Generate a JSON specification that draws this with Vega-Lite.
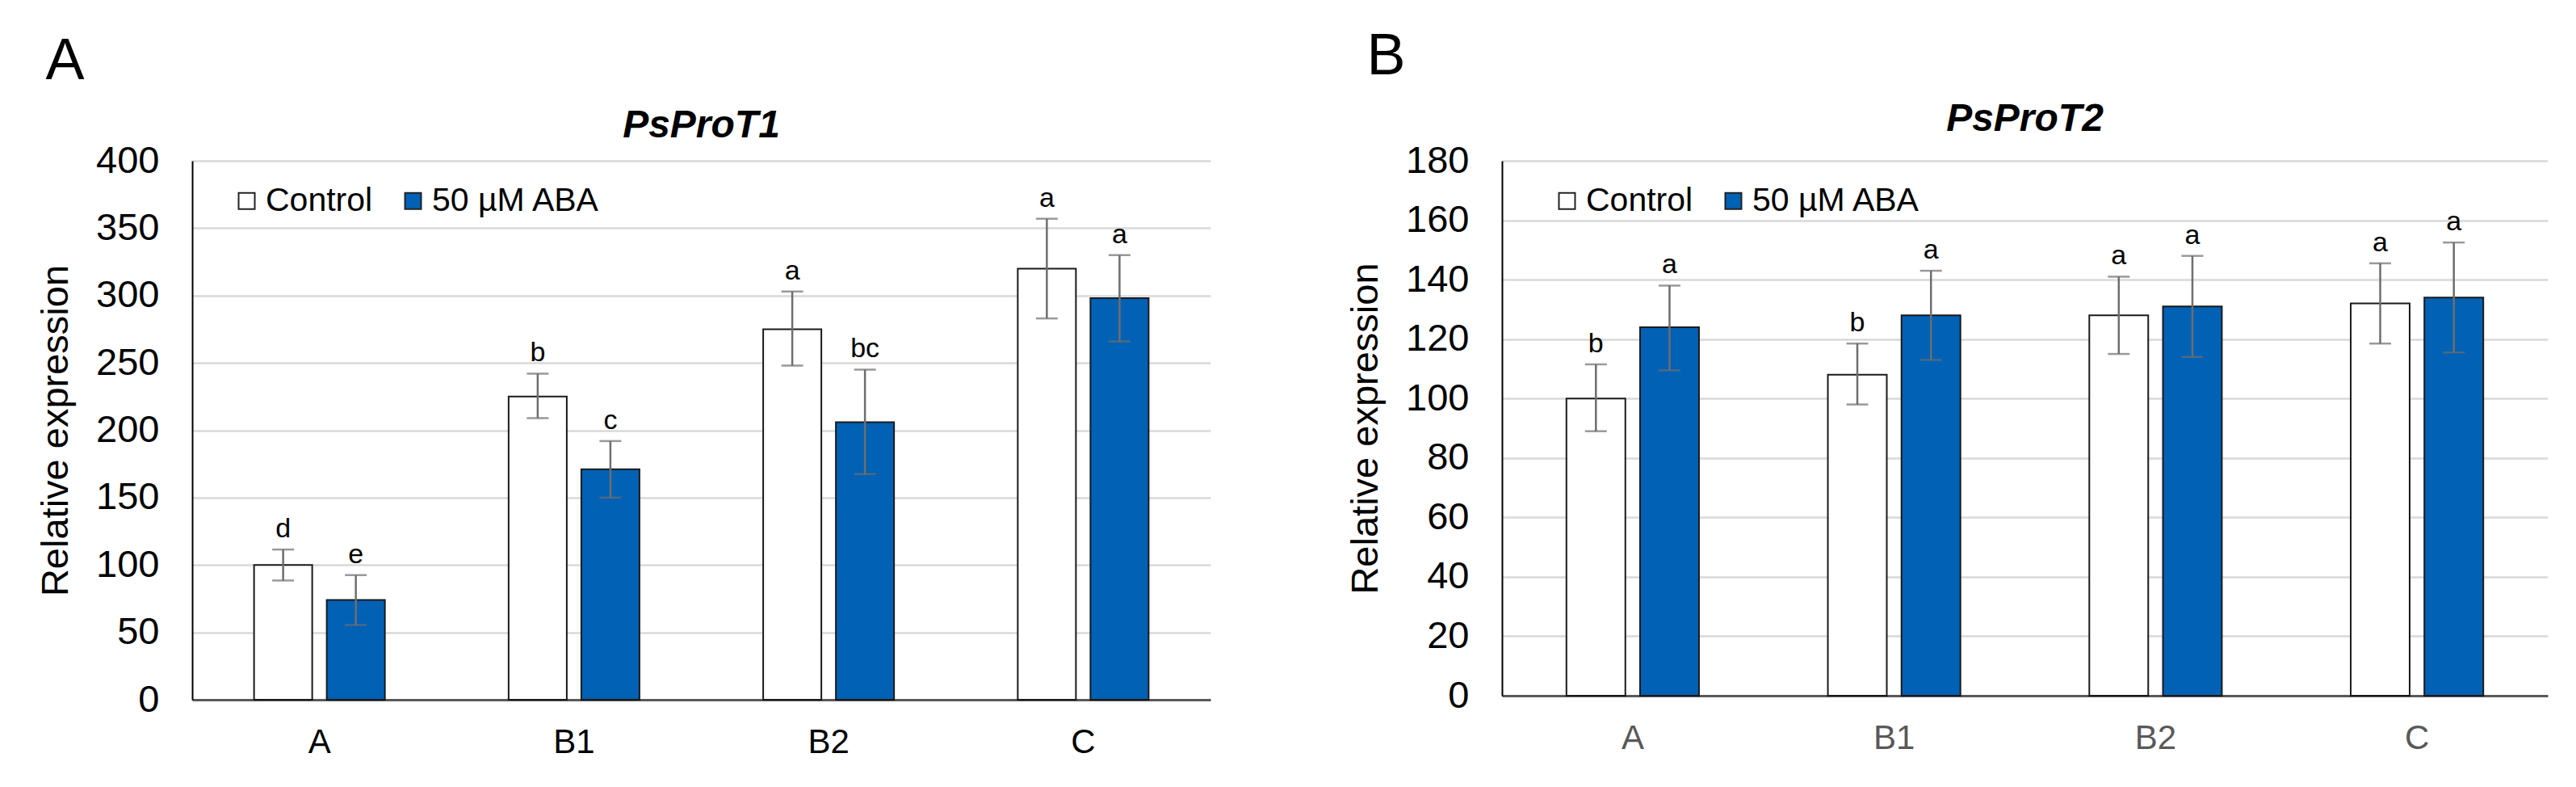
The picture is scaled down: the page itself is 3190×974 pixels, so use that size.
{
  "$schema": "https://vega.github.io/schema/vega-lite/v6.json",
  "padding": {"left": 45, "top": 33, "right": 10, "bottom": 10},
  "background": "white",
  "config": {
    "font": "Liberation Sans",
    "view": {"stroke": null},
    "axis": {"labelFont": "Liberation Sans", "titleFont": "Liberation Sans"}
  },
  "datasets": {
    "t1": [
      {"g": "A", "t": "Control", "m": 100, "lo": 88.5, "hi": 111.5, "l": "d"},
      {"g": "A", "t": "50 µM ABA", "m": 74, "lo": 55.5, "hi": 92.5, "l": "e"},
      {"g": "B1", "t": "Control", "m": 225, "lo": 209, "hi": 242, "l": "b"},
      {"g": "B1", "t": "50 µM ABA", "m": 171, "lo": 150, "hi": 192, "l": "c"},
      {"g": "B2", "t": "Control", "m": 275, "lo": 248, "hi": 303, "l": "a"},
      {"g": "B2", "t": "50 µM ABA", "m": 206, "lo": 167.5, "hi": 245, "l": "bc"},
      {"g": "C", "t": "Control", "m": 320, "lo": 283, "hi": 357, "l": "a"},
      {"g": "C", "t": "50 µM ABA", "m": 298, "lo": 266, "hi": 330, "l": "a"}
    ],
    "t2": [
      {"g": "A", "t": "Control", "m": 100, "lo": 89, "hi": 111.5, "l": "b"},
      {"g": "A", "t": "50 µM ABA", "m": 124, "lo": 109.5, "hi": 138, "l": "a"},
      {"g": "B1", "t": "Control", "m": 108, "lo": 98, "hi": 118.5, "l": "b"},
      {"g": "B1", "t": "50 µM ABA", "m": 128, "lo": 113, "hi": 143, "l": "a"},
      {"g": "B2", "t": "Control", "m": 128, "lo": 115, "hi": 141, "l": "a"},
      {"g": "B2", "t": "50 µM ABA", "m": 131, "lo": 114, "hi": 148, "l": "a"},
      {"g": "C", "t": "Control", "m": 132, "lo": 118.5, "hi": 145.5, "l": "a"},
      {"g": "C", "t": "50 µM ABA", "m": 134, "lo": 115.5, "hi": 152.5, "l": "a"}
    ]
  },
  "hconcat": [
    {
      "title": {"text": "A", "anchor": "start", "frame": "bounds", "fontSize": 72, "fontWeight": "normal", "baseline": "alphabetic", "offset": -38, "dx": 11, "color": "#000000"},
      "vconcat": [
        {
          "data": {"name": "t1"},
          "width": 1261,
          "height": 667,
          "title": {"text": "PsProT1", "anchor": "middle", "frame": "group", "fontSize": 48, "fontWeight": "bold", "fontStyle": "italic", "baseline": "alphabetic", "offset": -42.5, "color": "#000000"},
          "encoding": {
            "x": {"field": "g", "type": "nominal", "sort": ["A", "B1", "B2", "C"], "title": null,
              "scale": {"paddingInner": 0.486, "paddingOuter": 0.243},
              "axis": {"labelAngle": 0, "labelFontSize": 42, "labelColor": "#000000", "labelPadding": 32, "ticks": false, "domainColor": "#595959", "domainWidth": 3, "grid": false}},
            "xOffset": {"field": "t", "type": "nominal", "sort": ["Control", "50 µM ABA"], "scale": {"paddingInner": 0.2, "paddingOuter": 0}}
          },
          "layer": [
            {
              "mark": {"type": "bar", "stroke": "#1a1a1a", "strokeWidth": 2},
              "encoding": {
                "y": {"field": "m", "type": "quantitative", "title": "Relative expression",
                  "scale": {"domain": [0, 400], "nice": false},
                  "axis": {"values": [0, 50, 100, 150, 200, 250, 300, 350, 400], "labelFontSize": 47, "labelColor": "#000000", "labelPadding": 41, "ticks": false, "domainColor": "#000000", "domainWidth": 2, "gridColor": "#d9d9d9", "gridWidth": 2.5, "titleFontSize": 47, "titleFontWeight": "normal", "titlePadding": 25, "titleColor": "#000000"}},
                "color": {"field": "t", "type": "nominal", "scale": {"domain": ["Control", "50 µM ABA"], "range": ["#ffffff", "#0061b5"]},
                  "legend": {"title": null, "orient": "none", "legendX": 47, "legendY": 29, "direction": "horizontal", "padding": 0, "columnPadding": 29, "labelOffset": 3, "labelFontSize": 41, "labelLimit": 0, "labelColor": "#000000", "symbolType": "square", "symbolSize": 400, "symbolStrokeWidth": 2, "symbolStrokeColor": "#222222", "symbolOpacity": 1}}
              }
            },
            {
              "mark": {"type": "rule", "color": "#6e6e6e", "strokeWidth": 2.5},
              "encoding": {"y": {"field": "lo", "type": "quantitative", "title": "Relative expression"}, "y2": {"field": "hi"}}
            },
            {
              "mark": {"type": "tick", "color": "#6e6e6e", "thickness": 2.5},
              "encoding": {"y": {"field": "lo", "type": "quantitative", "title": "Relative expression"}, "size": {"value": 27}}
            },
            {
              "mark": {"type": "tick", "color": "#6e6e6e", "thickness": 2.5},
              "encoding": {"y": {"field": "hi", "type": "quantitative", "title": "Relative expression"}, "size": {"value": 27}}
            },
            {
              "mark": {"type": "text", "dy": -15, "baseline": "alphabetic", "fontSize": 34, "color": "#000000"},
              "encoding": {"y": {"field": "hi", "type": "quantitative", "title": "Relative expression"}, "text": {"field": "l"}}
            }
          ]
        }
      ]
    },
    {
      "title": {"text": "B", "anchor": "start", "frame": "bounds", "fontSize": 72, "fontWeight": "normal", "baseline": "alphabetic", "offset": -40, "dx": 25, "color": "#000000"},
      "vconcat": [
        {
          "data": {"name": "t2"},
          "width": 1295,
          "height": 662,
          "title": {"text": "PsProT2", "anchor": "middle", "frame": "group", "fontSize": 48, "fontWeight": "bold", "fontStyle": "italic", "baseline": "alphabetic", "offset": -34.5, "color": "#000000"},
          "encoding": {
            "x": {"field": "g", "type": "nominal", "sort": ["A", "B1", "B2", "C"], "title": null,
              "scale": {"paddingInner": 0.493, "paddingOuter": 0.2465},
              "axis": {"labelAngle": 0, "labelFontSize": 42, "labelColor": "#595959", "labelPadding": 32, "ticks": false, "domainColor": "#595959", "domainWidth": 3, "grid": false}},
            "xOffset": {"field": "t", "type": "nominal", "sort": ["Control", "50 µM ABA"], "scale": {"paddingInner": 0.2, "paddingOuter": 0}}
          },
          "layer": [
            {
              "mark": {"type": "bar", "stroke": "#1a1a1a", "strokeWidth": 2},
              "encoding": {
                "y": {"field": "m", "type": "quantitative", "title": "Relative expression",
                  "scale": {"domain": [0, 180], "nice": false},
                  "axis": {"values": [0, 20, 40, 60, 80, 100, 120, 140, 160, 180], "labelFontSize": 47, "labelColor": "#000000", "labelPadding": 41, "ticks": false, "domainColor": "#000000", "domainWidth": 2, "gridColor": "#d9d9d9", "gridWidth": 2.5, "titleFontSize": 47, "titleFontWeight": "normal", "titlePadding": 25, "titleColor": "#000000"}},
                "color": {"field": "t", "type": "nominal", "scale": {"domain": ["Control", "50 µM ABA"], "range": ["#ffffff", "#0061b5"]},
                  "legend": {"title": null, "orient": "none", "legendX": 60, "legendY": 29, "direction": "horizontal", "padding": 0, "columnPadding": 29, "labelOffset": 3, "labelFontSize": 41, "labelLimit": 0, "labelColor": "#000000", "symbolType": "square", "symbolSize": 400, "symbolStrokeWidth": 2, "symbolStrokeColor": "#222222", "symbolOpacity": 1}}
              }
            },
            {
              "mark": {"type": "rule", "color": "#6e6e6e", "strokeWidth": 2.5},
              "encoding": {"y": {"field": "lo", "type": "quantitative", "title": "Relative expression"}, "y2": {"field": "hi"}}
            },
            {
              "mark": {"type": "tick", "color": "#6e6e6e", "thickness": 2.5},
              "encoding": {"y": {"field": "lo", "type": "quantitative", "title": "Relative expression"}, "size": {"value": 27}}
            },
            {
              "mark": {"type": "tick", "color": "#6e6e6e", "thickness": 2.5},
              "encoding": {"y": {"field": "hi", "type": "quantitative", "title": "Relative expression"}, "size": {"value": 27}}
            },
            {
              "mark": {"type": "text", "dy": -15, "baseline": "alphabetic", "fontSize": 34, "color": "#000000"},
              "encoding": {"y": {"field": "hi", "type": "quantitative", "title": "Relative expression"}, "text": {"field": "l"}}
            }
          ]
        }
      ]
    }
  ],
  "spacing": 168,
  "align": "none",
  "resolve": {"scale": {"x": "independent", "y": "independent", "xOffset": "independent", "color": "independent"}, "legend": {"color": "independent"}}
}
